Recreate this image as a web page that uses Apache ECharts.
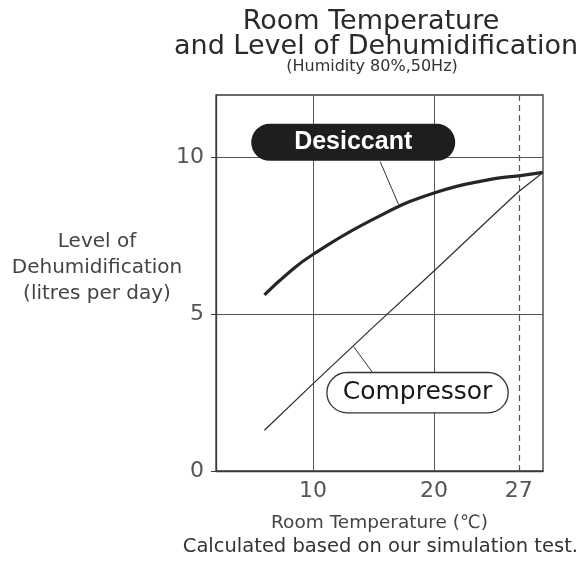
<!DOCTYPE html>
<html>
<head>
<meta charset="utf-8">
<script src="https://cdn.jsdelivr.net/npm/echarts@6/dist/echarts.min.js"></script>
<style>
  html, body { margin: 0; padding: 0; background: #fff; }
  #chart { width: 585px; height: 564px; }
</style>
</head>
<body>
<div id="chart"></div>
<script>
// Room temperature (°C) against dehumidification (litres per day)
const desiccantTemps  = [6, 8, 10, 15, 20, 25, 27, 29];
const desiccantLevels = [5.62, 6.33, 6.91, 8.04, 8.87, 9.33, 9.42, 9.53];

const compressorTemps  = [6, 10, 15, 20, 25, 27, 29];
const compressorLevels = [1.3, 2.78, 4.6, 6.38, 8.2, 8.92, 9.53];

const xTickLabels = [10, 20, 27];
const xGridValues = [10, 20];
const yTickLabels = [0, 5, 10];
const ratedTemp = 27;

// Series name tags and the short lines that tie them to their curve
const seriesTags = ['Desiccant', 'Compressor'];
const tagAnchors = [[13.33, 10.49], [18.64, 2.5]];
const desiccantLeader  = [[15.56, 9.87], [17.08, 8.5]];
const compressorLeader = [[15.01, 3.1], [13.36, 3.97]];

const FONT = 'DejaVu Sans';
const INK = '#333';

const zip = (xs, ys) => xs.map((x, i) => [x, ys[i]]);

const chart = echarts.init(document.getElementById('chart'), null, { renderer: 'canvas' });

chart.setOption({
  animation: false,
  backgroundColor: '#fff',
  title: [
    {
      text: 'Room Temperature',
      left: 366, top: 4, textAlign: 'center',
      textStyle: { fontFamily: FONT, fontSize: 27, fontWeight: 'normal', color: '#2a2a2a', lineHeight: 25 }
    },
    {
      text: 'and Level of Dehumidification',
      left: 371, top: 29, textAlign: 'center',
      textStyle: { fontFamily: FONT, fontSize: 27, fontWeight: 'normal', color: '#2a2a2a', lineHeight: 25 }
    },
    {
      text: '(Humidity 80%,50Hz)',
      left: 367, top: 54, textAlign: 'center',
      textStyle: { fontFamily: FONT, fontSize: 16, fontWeight: 'normal', color: '#333' }
    },
    {
      text: 'Level of\nDehumidification\n(litres per day)',
      left: 92, top: 224, textAlign: 'center',
      textStyle: { fontFamily: FONT, fontSize: 20, fontWeight: 'normal', color: '#444', lineHeight: 26, align: 'center' }
    },
    {
      text: 'Calculated based on our simulation test.',
      right: 2, top: 532,
      textStyle: { fontFamily: FONT, fontSize: 19.5, fontWeight: 'normal', color: '#333' }
    }
  ],
  grid: {
    left: 216, right: 42, top: 95, bottom: 93,
    show: true, borderColor: '#3a3a3a', borderWidth: 1.3, backgroundColor: 'transparent'
  },
  xAxis: {
    type: 'value', min: 2, max: 29,
    name: 'Room Temperature (\u2103)',
    nameLocation: 'middle', nameGap: 43,
    nameTextStyle: { fontFamily: FONT, fontSize: 18.5, color: '#444' },
    axisLine: { show: true, lineStyle: { color: '#3a3a3a', width: 1.3 } },
    axisTick: { show: false, customValues: xTickLabels },
    axisLabel: {
      customValues: xTickLabels, margin: 9,
      fontFamily: FONT, fontSize: 22, color: '#555'
    },
    splitLine: { show: false }
  },
  yAxis: {
    type: 'value', min: 0, max: 12, interval: 5,
    axisLine: { show: true, lineStyle: { color: '#3a3a3a', width: 1.3 } },
    axisTick: { show: true, length: 5, inside: false, customValues: yTickLabels, lineStyle: { color: '#3a3a3a' } },
    axisLabel: {
      customValues: yTickLabels,
      margin: 12, fontFamily: FONT, fontSize: 22, color: '#555'
    },
    splitLine: { show: true, lineStyle: { color: '#555', width: 1 } }
  },
  series: [
    {
      // vertical grid lines and the dashed rated-temperature line
      type: 'line', data: [], silent: true,
      markLine: {
        silent: true, symbol: 'none', label: { show: false },
        data: [
          ...xGridValues.map(v => ({ xAxis: v, lineStyle: { color: '#555', width: 1, type: 'solid' } })),
          { xAxis: ratedTemp, lineStyle: { color: '#555', width: 1.2, type: [6, 4] } }
        ]
      }
    },
    {
      name: 'Desiccant', type: 'line', smooth: true, symbol: 'none',
      data: zip(desiccantTemps, desiccantLevels),
      lineStyle: { color: '#262626', width: 3.2 }, z: 5
    },
    {
      name: 'Compressor', type: 'line', smooth: false, symbol: 'none',
      data: zip(compressorTemps, compressorLevels),
      lineStyle: { color: '#333', width: 1.3 }, z: 5
    },
    {
      type: 'line', symbol: 'none', data: desiccantLeader,
      lineStyle: { color: INK, width: 1 }, z: 4
    },
    {
      type: 'line', symbol: 'none', data: compressorLeader,
      lineStyle: { color: INK, width: 1 }, z: 4
    },
    {
      type: 'scatter', symbolSize: 0, z: 10, silent: true,
      itemStyle: { opacity: 1 },
      data: [
        {
          value: tagAnchors[0],
          label: {
            show: true, position: 'inside', formatter: seriesTags[0],
            fontFamily: 'Liberation Sans', fontWeight: 'bold', fontSize: 25, color: '#fff',
            backgroundColor: '#1e1e1e', borderRadius: 18.5,
            width: 204, height: 25, lineHeight: 25, padding: [6, 0], align: 'center', verticalAlign: 'middle'
          }
        },
        {
          value: tagAnchors[1],
          label: {
            show: true, position: 'inside', formatter: seriesTags[1],
            fontFamily: FONT, fontSize: 25, color: '#1a1a1a',
            backgroundColor: '#fff', borderColor: '#333', borderWidth: 1.3, borderRadius: 19.5,
            width: 180, height: 27, lineHeight: 27, padding: [6, 0], align: 'center', verticalAlign: 'middle'
          }
        }
      ]
    }
  ]
});
</script>
</body>
</html>
